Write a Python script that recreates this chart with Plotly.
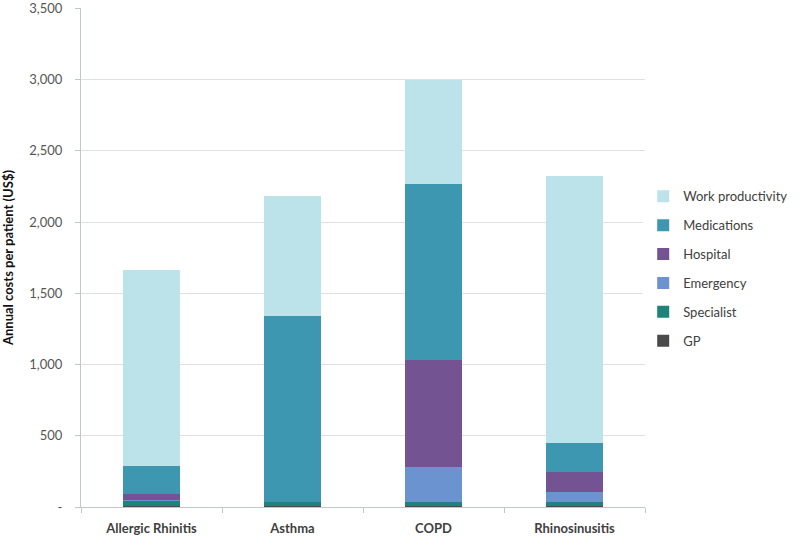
import plotly.graph_objects as go

categories = ["Allergic Rhinitis", "Asthma", "COPD", "Rhinosinusitis"]
series_names = ["GP", "Specialist", "Emergency", "Hospital", "Medications", "Work productivity"]
gp = [8, 5, 5, 5]
specialist = [35, 30, 30, 32]
emergency = [5, 0, 243, 66]
hospital = [46, 0, 752, 140]
medications = [194, 1305, 1240, 208]
work_productivity = [1377, 840, 730, 1874]
y_tick_vals = [0, 500, 1000, 1500, 2000, 2500, 3000, 3500]
y_tick_text = ["-", "500", "1,000", "1,500", "2,000", "2,500", "3,000", "3,500"]

values = [gp, specialist, emergency, hospital, medications, work_productivity]
colors = ["#4A4A4A", "#1E8378", "#6A93CF", "#735391", "#3E97B0", "#BDE3EA"]

fig = go.Figure()
for i, (name, vals, col) in enumerate(zip(series_names, values, colors)):
    fig.add_trace(go.Bar(
        x=categories, y=vals, name=name, legendgroup=name,
        legendrank=100 - i,
        marker=dict(color=col, line=dict(width=0)),
    ))

fig.update_layout(
    width=800, height=538,
    barmode="stack", bargap=0.6,
    plot_bgcolor="white", paper_bgcolor="white",
    margin=dict(l=81, r=155, t=8, b=31, autoexpand=False),
    font=dict(family="Lato, Liberation Sans, sans-serif", size=13, color="#404040"),
    showlegend=True,
    legend=dict(
        xref="container", yref="container",
        x=0.804, y=0.663, xanchor="left", yanchor="top",
        traceorder="grouped", tracegroupgap=9,
        font=dict(size=13, color="#404040"),
        itemwidth=30,
    ),
    xaxis=dict(
        automargin=False,
        showline=True, linecolor="#BFC8CC", linewidth=1,
        ticks="outside", tickson="boundaries", ticklen=5, tickcolor="#BFC8CC",
        tickfont=dict(size=13, color="#404040", family="Lato, sans-serif", weight="bold"),
        ticklabelstandoff=9,
        showgrid=False,
    ),
    yaxis=dict(
        automargin=False,
        range=[0, 3502], tickvals=y_tick_vals, ticktext=y_tick_text,
        showline=True, linecolor="#BFC8CC", linewidth=1,
        ticks="outside", ticklen=5, tickcolor="#BFC8CC",
        showgrid=True, gridcolor="#E0E0E0", gridwidth=1,
        tickfont=dict(size=13, color="#555555"),
        ticklabelstandoff=10,
        ticklabeloverflow="allow",
        title=dict(text="Annual costs per patient (US$)",
                   font=dict(size=13, color="#111111", family="Lato, sans-serif", weight="bold"),
                   standoff=12),
        zeroline=False,
    ),
)

fig.write_html("out.html", post_script="document.body.style.margin='0';",
               config={"displayModeBar": False})
